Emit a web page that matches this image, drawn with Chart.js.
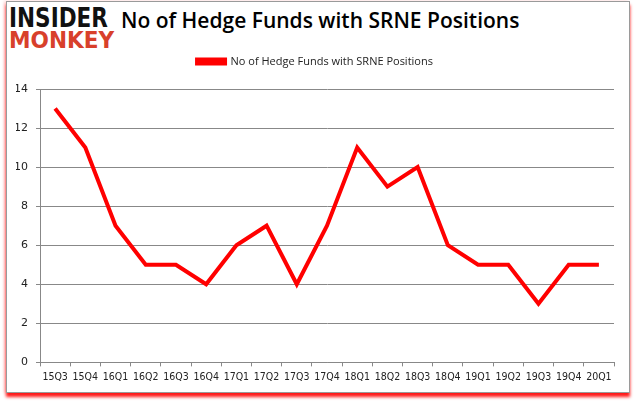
<!DOCTYPE html>
<html>
<head>
<meta charset="utf-8">
<script src="https://cdn.jsdelivr.net/npm/chart.js@4"></script>
<style>
  body { margin: 0; background: #fff; }
  #wrap { position: relative; width: 635px; height: 405px; overflow: hidden; }
  #frame { position: absolute; left: 6px; top: 1px; width: 622px; height: 390px;
           border: 1px solid #9a9a9a; box-shadow: 0 4px 3px 0 #ff1a1a, -2px 0 3px 0 #ffd0d0; background: #fff; }
  .logo { position: absolute; left: 9px; font-family: "DejaVu Sans", sans-serif; font-weight: bold;
          transform-origin: 0 0; white-space: nowrap; }
  #logo1 { top: 5px; font-size: 26px; line-height: 26px; color: #111; transform: scaleX(0.83); }
  #logo2 { top: 29px; font-size: 23px; line-height: 23px; color: #d8402b; transform: scaleX(0.94); }
  #title { position: absolute; left: 121px; top: 10px; font-family: "Open Sans", sans-serif;
           font-size: 21px; line-height: 21.5px; font-weight: 600; color: #000; white-space: nowrap; }
  canvas { position: absolute; left: 0; top: 0; }
</style>
</head>
<body>
<div id="wrap">
  <div id="frame"></div>
  <div class="logo" id="logo1">INSIDER</div>
  <div class="logo" id="logo2">MONKEY</div>
  <div id="title">No of Hedge Funds with SRNE Positions</div>
  <canvas id="c" width="635" height="405"></canvas>
</div>
<script>
const quarters = ['15Q3','15Q4','16Q1','16Q2','16Q3','16Q4','17Q1','17Q2','17Q3','17Q4',
                  '18Q1','18Q2','18Q3','18Q4','19Q1','19Q2','19Q3','19Q4','20Q1'];
const funds = [13, 11, 7, 5, 5, 4, 6, 7, 4, 7, 11, 9, 10, 6, 5, 5, 3, 5, 5];
const yTicks = [0, 2, 4, 6, 8, 10, 12, 14];

// push the plot area down a little below the legend
const legendGap = {
    id: 'legendGap',
    beforeInit(chart) {
        const fit = chart.legend.fit;
        chart.legend.fit = function() {
            fit.bind(chart.legend)();
            this.height += 12;
        };
    }
};

const ctx = document.getElementById('c').getContext('2d');
new Chart(ctx, {
    type: 'line',
    data: {
        labels: quarters,
        datasets: [{
            label: 'No of Hedge Funds with SRNE Positions',
            data: funds,
            borderColor: '#ff0000',
            backgroundColor: '#ff0000',
            borderWidth: 4,
            pointRadius: 0,
            tension: 0,
            fill: false
        }]
    },
    options: {
        responsive: false,
        animation: false,
        layout: { padding: { left: 16, right: 21, top: 46, bottom: 16 } },
        plugins: {
            legend: {
                labels: {
                    font: { family: 'Open Sans', size: 11 },
                    color: '#222',
                    boxWidth: 28,
                    boxHeight: 4,
                    padding: 10
                }
            },
            tooltip: { enabled: false }
        },
        scales: {
            x: {
                offset: true,
                grid: { drawOnChartArea: false, drawTicks: true, tickLength: 4, color: '#888', offset: true },
                border: { color: '#888' },
                ticks: { font: { family: 'DejaVu Sans Condensed', size: 10.5 }, color: '#222',
                         maxRotation: 0, autoSkip: false, padding: 5 }
            },
            y: {
                min: 0, max: 14,
                afterBuildTicks: function(axis) { axis.ticks = yTicks.map(v => ({ value: v })); },
                afterFit: function(axis) { axis.width = 24; },
                grid: { color: '#888', drawTicks: true, tickLength: 4 },
                border: { color: '#888' },
                ticks: { font: { family: 'DejaVu Sans', size: 11 }, color: '#222', padding: 8 }
            }
        }
    },
    plugins: [legendGap]
});
</script>
</body>
</html>
